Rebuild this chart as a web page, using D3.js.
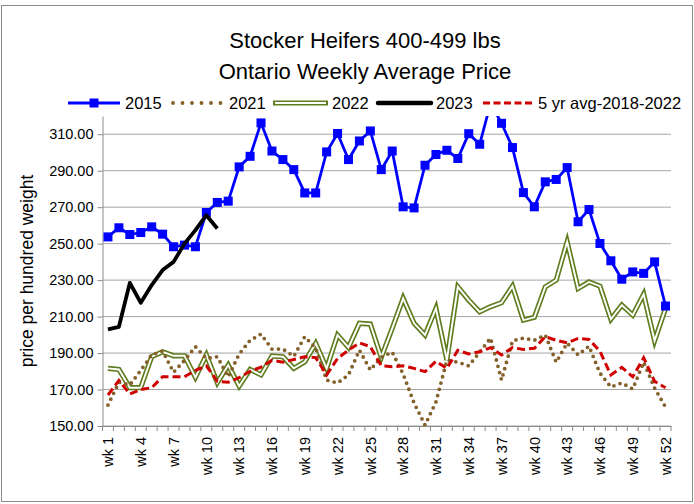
<!DOCTYPE html>
<html>
<head>
<meta charset="utf-8">
<script src="https://cdn.jsdelivr.net/npm/d3@7"></script>
<style>
  body { margin:0; background:#fff; }
  text { font-family: "Liberation Sans", Arial, sans-serif; fill:#000; }
</style>
</head>
<body>
<div id="plot"></div>
<script>
// weekly prices, $ per hundred weight
var weeks = d3.range(1, 53).map(function(d){ return 'wk ' + d; });
var tickWeeks = weeks.filter(function(d, i){ return i % 3 == 0; });
var yTicks = [150, 170, 190, 210, 230, 250, 270, 290, 310];

var y2015 = [253.7,258.7,255,256.1,259.2,255.2,248.3,249.2,248.3,267.1,272.6,273.3,292.1,297.9,316.2,300.8,296.1,290.6,277.8,277.8,
             300.3,310.4,296.1,306.3,311.8,290.6,300.8,270.2,269.6,293,298.9,301.2,296.7,310.3,304.5,327,316,302.7,278,270.2,
             283.9,285.2,291.7,262,268.7,250.1,240.6,230.5,234.5,233.7,240,215.8];
var y2021 = [161.5,174,172.5,180.5,189,191,179.5,186,193.5,187,188,177,189.5,197,200.4,192.2,192.2,188.2,199,192.7,
             175.2,173.6,178,191.6,180.7,187.8,190.5,178.5,162.6,150.5,163.2,186,185,183,190.5,198.2,175.2,196.7,198.2,197,
             199.9,185,195.5,189,193.8,179,171.4,173.6,170.3,185,170.8,160.4];
var y2022 = [181.6,181,171,171,188,190.7,188.5,188.5,176.7,189,173.7,183.4,171.9,181,178,188.4,188,181.6,185.2,195.3,
             181.6,199.9,193.1,206.3,205.9,187.6,203.5,220,206.3,199.9,214.5,186.2,226.3,219,212.6,215.4,217.6,226.7,208.1,209.6,
             226.3,230,251,225.4,229,226.7,208.5,216.3,210.8,222.3,196.7,214.5];
var y2023 = [203,204.4,228.5,217.6,227.3,235.5,240,250,257.4,265.6,258.3];
var avg5 = [167,175,167.5,170,171,177,177,177,180.5,183,174.5,174,176.5,180,182.3,186,185,186.5,188,187.5,
            178,187,191.6,195.6,193.5,183,182.5,183,181.6,179.8,185.5,181.6,191.5,189.5,190.7,193,189,193,192,192.6,
            199,197,195.6,198,197.5,191,178,182.2,177,187.4,174.5,171];

var W = 694, H = 504;
var margin = {t:116, r:23, b:78, l:102.5};

var svg = d3.select('#plot').append('svg')
    .attr('width', W).attr('height', H);

// chart border
svg.append('rect')
    .attr('x', 1.5).attr('y', 5.5).attr('width', W - 3).attr('height', H - 8)
    .attr('fill', 'none').attr('stroke', '#8c8c8c').attr('stroke-width', 1);

var x = d3.scaleBand().domain(weeks).range([margin.l, W - margin.r]).padding(0);
var y = d3.scaleLinear().domain([150, 320]).range([H - margin.b, margin.t]);
var cx = function(d, i){ return x(weeks[i]) + x.bandwidth()/2; };

// title
svg.append('text').attr('x', 365).attr('y', 48).attr('text-anchor','middle')
    .style('font-size','22px').text('Stocker Heifers 400-499 lbs');
svg.append('text').attr('x', 365).attr('y', 79).attr('text-anchor','middle')
    .style('font-size','22px').text('Ontario Weekly Average Price');

// gridlines
svg.append('g').selectAll('line').data(yTicks).enter().append('line')
    .attr('x1', margin.l).attr('x2', W - margin.r)
    .attr('y1', function(d){ return y(d); }).attr('y2', function(d){ return y(d); })
    .attr('stroke', '#a6a6a6').attr('stroke-width', 1);

// y axis
var yAxis = svg.append('g')
    .attr('transform', 'translate(' + margin.l + ',0)')
    .call(d3.axisLeft(y).tickValues(yTicks).tickFormat(d3.format('.2f')).tickSize(5).tickSizeOuter(0));
yAxis.select('.domain').attr('stroke', '#8c8c8c');
yAxis.selectAll('line').attr('stroke', '#8c8c8c');
yAxis.selectAll('text').style('font-size','14.5px').attr('x', -9)
    .style('font-family','"Liberation Sans", Arial, sans-serif');

// x axis
var xAxis = svg.append('g')
    .attr('transform', 'translate(0,' + (H - margin.b) + ')')
    .call(d3.axisBottom(x).tickValues(tickWeeks).tickSize(0).tickSizeOuter(0));
xAxis.select('.domain').attr('stroke', '#8c8c8c');
xAxis.selectAll('text')
    .style('font-size','14.5px')
    .style('font-family','"Liberation Sans", Arial, sans-serif')
    .attr('text-anchor','end')
    .attr('transform','rotate(-90)')
    .attr('x', -11).attr('y', 0).attr('dy', '0.36em');
// tick marks between categories
var bounds = weeks.map(function(d){ return x(d); }).concat([x.range()[1]]);
svg.append('g').selectAll('line').data(bounds).enter().append('line')
    .attr('x1', function(d){ return d; }).attr('x2', function(d){ return d; })
    .attr('y1', H - margin.b).attr('y2', H - margin.b + 5)
    .attr('stroke', '#8c8c8c');

// y label
svg.append('text')
    .attr('transform', 'translate(33,' + (margin.t + (H - margin.b - margin.t)/2) + ') rotate(-90)')
    .attr('text-anchor','middle')
    .style('font-size','17.5px')
    .text('price per hundred weight');

// clip
svg.append('clipPath').attr('id','clip').append('rect')
    .attr('x', margin.l).attr('y', margin.t)
    .attr('width', W - margin.r - margin.l).attr('height', H - margin.b - margin.t);

var line = d3.line().x(cx).y(function(d){ return y(d); });
var g = svg.append('g').attr('clip-path','url(#clip)');

var c2015 = '#0000ff', c2021 = '#84602a', c2022 = '#5f7d1e', c2023 = '#000000', cAvg = '#d00000';

// 2022 double line
g.append('path').datum(y2022).attr('d', line).attr('fill','none')
    .attr('stroke', c2022).attr('stroke-width', 5.2).attr('stroke-linejoin','miter');
g.append('path').datum(y2022).attr('d', line).attr('fill','none')
    .attr('stroke', '#fff').attr('stroke-width', 1.9).attr('stroke-linejoin','miter');

// 2021 dotted
g.append('path').datum(y2021).attr('d', line).attr('fill','none')
    .attr('stroke', c2021).attr('stroke-width', 3.8).attr('stroke-linecap','round')
    .attr('stroke-dasharray','0,6.5');

// 5 yr avg dashed
g.append('path').datum(avg5).attr('d', line).attr('fill','none')
    .attr('stroke', cAvg).attr('stroke-width', 3).attr('stroke-dasharray','8,4');

// 2015
g.append('path').datum(y2015).attr('d', line).attr('fill','none')
    .attr('stroke', c2015).attr('stroke-width', 2.8);
g.selectAll('rect.m15').data(y2015).enter().append('rect').attr('class','m15')
    .attr('x', function(d, i){ return cx(d, i) - 4.5; })
    .attr('y', function(d){ return y(d) - 4.5; })
    .attr('width', 9).attr('height', 9).attr('fill', c2015);

// 2023
g.append('path').datum(y2023).attr('d', line).attr('fill','none')
    .attr('stroke', c2023).attr('stroke-width', 3.8).attr('stroke-linejoin','round');

// legend
var ly = 103;
var leg = svg.append('g');
leg.append('line').attr('x1',68).attr('x2',120).attr('y1',ly).attr('y2',ly).attr('stroke',c2015).attr('stroke-width',2.8);
leg.append('rect').attr('x',89.5).attr('y',ly-4.5).attr('width',9).attr('height',9).attr('fill',c2015);
leg.append('line').attr('x1',173).attr('x2',222).attr('y1',ly).attr('y2',ly).attr('stroke',c2021)
    .attr('stroke-width',3.8).attr('stroke-linecap','round').attr('stroke-dasharray','0,9.5');
leg.append('line').attr('x1',273).attr('x2',328).attr('y1',ly).attr('y2',ly).attr('stroke',c2022).attr('stroke-width',5.2);
leg.append('line').attr('x1',275).attr('x2',326).attr('y1',ly).attr('y2',ly).attr('stroke','#fff').attr('stroke-width',1.9);
leg.append('line').attr('x1',378).attr('x2',431).attr('y1',ly).attr('y2',ly).attr('stroke',c2023).attr('stroke-width',4.5)
    .attr('stroke-linecap','round');
leg.append('line').attr('x1',483).attr('x2',533).attr('y1',ly).attr('y2',ly).attr('stroke',cAvg).attr('stroke-width',3)
    .attr('stroke-dasharray','7,3.5');
var legText = [['2015',125],['2021',229],['2022',332],['2023',436],['5 yr avg-2018-2022',538]];
leg.selectAll('text').data(legText).enter().append('text')
    .attr('x', function(d){ return d[1]; }).attr('y', ly).attr('dy','0.36em')
    .style('font-size','16.5px').text(function(d){ return d[0]; });
</script>
</body>
</html>
